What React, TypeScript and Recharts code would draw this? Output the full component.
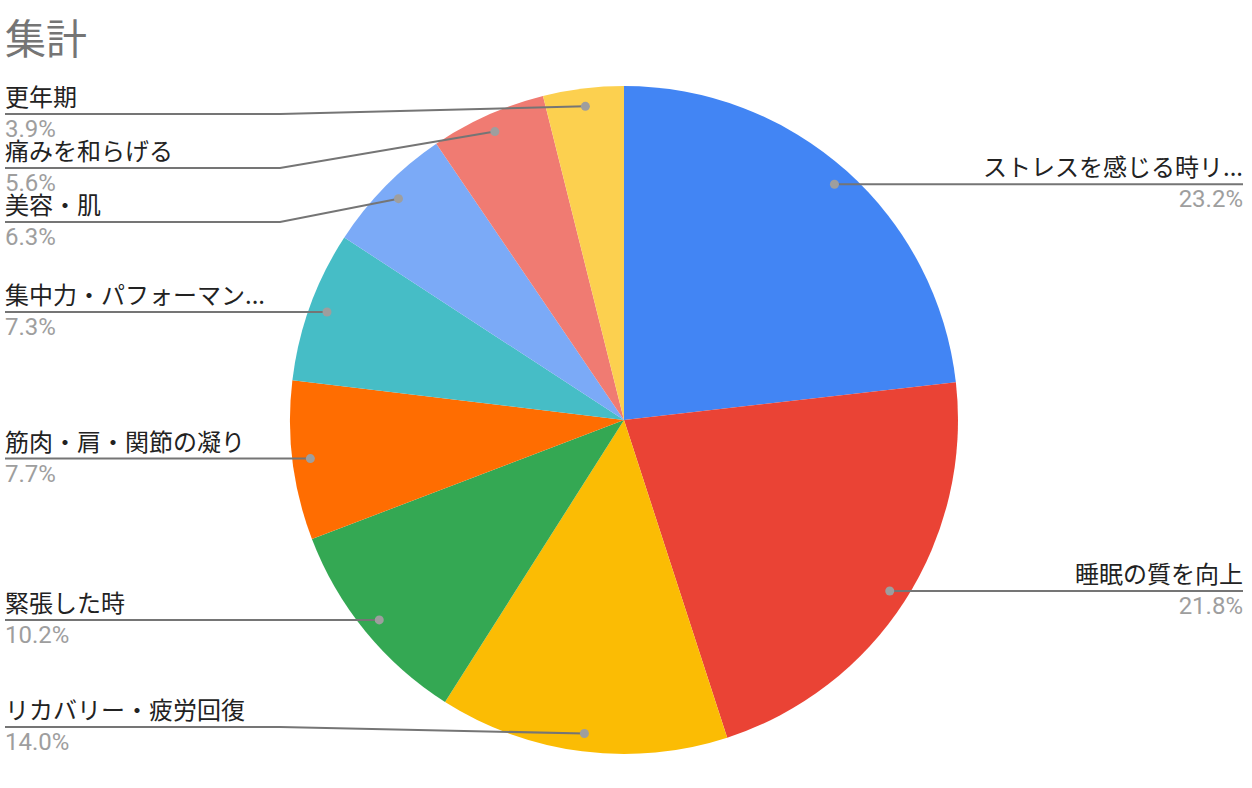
import { PieChart, Pie, Cell } from "recharts";

const names = [
  "ストレスを感じる時リ...",
  "睡眠の質を向上",
  "リカバリー・疲労回復",
  "緊張した時",
  "筋肉・肩・関節の凝り",
  "集中力・パフォーマン...",
  "美容・肌",
  "痛みを和らげる",
  "更年期",
];
const shares = [23.2, 21.8, 14.0, 10.2, 7.7, 7.3, 6.3, 5.6, 3.9];
const colors = [
  "#4285f4", "#ea4335", "#fbbc04", "#34a853", "#ff6d01",
  "#46bdc6", "#7baaf7", "#f07b72", "#fcd04f",
];

const data = names.map((name, i) => ({ name, value: shares[i] }));

const W = 1252;
const H = 788;
const CX = 624;
const CY = 420;
const R = 334;
const RAD = Math.PI / 180;
const GAP = 54; // min distance between label lines
const TOP_Y = 114;
const BOTTOM_Y = 727;

// dot positions along mid angle, then push overlapping labels apart per side
function layout(cx: number, cy: number, r: number) {
  const total = shares.reduce((a, b) => a + b, 0);
  let acc = 0;
  const pts = shares.map((v, i) => {
    const mid = ((acc + v / 2) / total) * 360;
    acc += v;
    const x = cx + (r - 18) * Math.sin(mid * RAD);
    const y = cy - (r - 18) * Math.cos(mid * RAD);
    return { i, x, y, ly: y, left: x < cx };
  });
  for (const side of [true, false]) {
    const s = pts.filter(p => p.left === side).sort((a, b) => a.y - b.y);
    for (let k = 0; k < s.length; k++) {
      s[k].ly = Math.max(s[k].y, TOP_Y, k ? s[k - 1].ly + GAP : -Infinity);
    }
    for (let k = s.length - 1; k >= 0; k--) {
      s[k].ly = Math.min(s[k].ly, BOTTOM_Y, k < s.length - 1 ? s[k + 1].ly - GAP : Infinity);
    }
  }
  return pts;
}

const renderLabel = (props: any) => {
  const { cx, cy, outerRadius, index } = props;
  const p = layout(cx, cy, outerRadius)[index];
  const edge = p.left ? 5 : W - 9;
  const elbow = p.left ? 280 : 965;
  const anchor = p.left ? "start" : "end";
  return (
    <g key={`lbl-${index}`}>
      <polyline
        points={`${p.x},${p.y} ${elbow},${p.ly} ${edge},${p.ly}`}
        fill="none" stroke="#757575" strokeWidth={2}
      />
      <circle cx={p.x} cy={p.y} r={4.5} fill="#9e9e9e" />
      <text x={edge} y={p.ly - 8} textAnchor={anchor} fontSize={24} fill="#222"
        fontFamily="'Noto Sans CJK JP', Roboto, sans-serif">
        {names[index]}
      </text>
      <text x={edge} y={p.ly + 23} textAnchor={anchor} fontSize={24} fill="#9e9e9e"
        fontFamily="Roboto, 'Noto Sans CJK JP', sans-serif">
        {shares[index].toFixed(1)}%
      </text>
    </g>
  );
};

export default function App() {
  return (
    <div style={{ position: "absolute", left: 0, top: 0, width: W, height: H, background: "#fff" }}>
      <div style={{
        position: "absolute", left: 5, top: 12, fontSize: 41, lineHeight: "48px",
        color: "#757575", fontFamily: "'Noto Sans CJK JP', sans-serif",
      }}>
        集計
      </div>
      <PieChart width={W} height={H} margin={{ top: 0, right: 0, bottom: 0, left: 0 }}>
        <Pie
          data={data}
          dataKey="value"
          nameKey="name"
          cx={CX}
          cy={CY}
          outerRadius={R}
          startAngle={90}
          endAngle={-270}
          stroke="none"
          labelLine={false}
          label={renderLabel}
          isAnimationActive={false}
        >
          {data.map((d, i) => (
            <Cell key={d.name} fill={colors[i]} />
          ))}
        </Pie>
      </PieChart>
    </div>
  );
}
